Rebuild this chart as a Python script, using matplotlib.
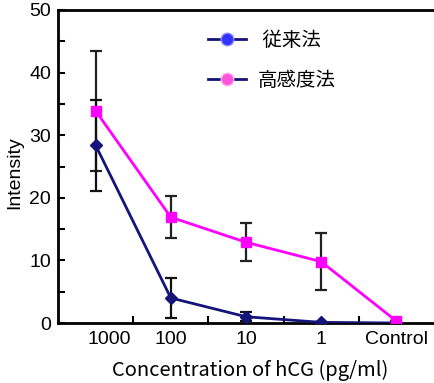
import matplotlib
matplotlib.use("Agg")
import matplotlib.pyplot as plt
from matplotlib.lines import Line2D
from matplotlib.ticker import MultipleLocator, FixedLocator
import matplotlib.transforms as mtransforms

categories = ["1000", "100", "10", "1", "Control"]
conv_vals = [28.4, 4.0, 1.0, 0.1, 0.0]
conv_err = [7.3, 3.2, 0.7, 0.0, 0.0]
high_vals = [33.9, 16.9, 12.9, 9.8, 0.3]
high_err = [9.6, 3.4, 3.0, 4.6, 0.0]
labels = ["従来法", "高感度法"]

plt.rcParams['font.family'] = ['Liberation Sans', 'Noto Sans CJK JP', 'DejaVu Sans']

fig = plt.figure(figsize=(4.34, 3.83), dpi=100)
ax = fig.add_axes([58/434, 1-323/383, 1-58/434, (323-10)/383])

x = list(range(len(categories)))
navy = "#14147a"
mag = "#ff00ff"

ax.errorbar(x, high_vals, yerr=high_err, fmt='none', ecolor='#222222',
            elinewidth=1.6, capsize=4.5, capthick=1.6, zorder=2)
ax.errorbar(x, conv_vals, yerr=conv_err, fmt='none', ecolor='#111111',
            elinewidth=1.6, capsize=4.5, capthick=1.6, zorder=2)
ax.plot(x, conv_vals, color=navy, lw=2.0, marker='D', ms=6, mfc=navy, mec=navy, zorder=3)
ax.plot(x, high_vals, color=mag, lw=2.0, marker='s', ms=7, mfc=mag, mec=mag, zorder=4)

ax.set_xlim(-0.5, 4.5)
ax.set_ylim(0, 50)
ax.spines['right'].set_visible(False)
for s in ['left', 'top', 'bottom']:
    ax.spines[s].set_linewidth(2.0)
    ax.spines[s].set_color('black')

ax.yaxis.set_major_locator(MultipleLocator(10))
ax.yaxis.set_minor_locator(MultipleLocator(5))
ax.tick_params(axis='y', which='both', direction='in', length=5, width=1.5,
               labelsize=14, pad=5)
ax.set_xticks(x)
ax.set_xticklabels(categories, fontsize=14)
ax.xaxis.set_minor_locator(FixedLocator([0.5, 1.5, 2.5, 3.5]))
ax.tick_params(axis='x', which='major', length=0, pad=6)
ax.tick_params(axis='x', which='minor', direction='in', length=5, width=1.5)
# shift first label slightly to the right as in the reference
lbl0 = ax.get_xticklabels()[0]
lbl0.set_transform(lbl0.get_transform() + mtransforms.ScaledTranslation(14/100, 0, fig.dpi_scale_trans))

fig.text(15/434, 1-173/383, "Intensity", rotation=90, ha='center', va='center',
         fontsize=14)
fig.text(250/434, 1-370/383, "Concentration of hCG (pg/ml)",
         ha='center', va='center', fontsize=14.5, family=['Noto Sans CJK JP'])

handles = [
    Line2D([], [], color=navy, lw=2, marker='o', ms=9, mfc='#3333ff', mec='#8888ff'),
    Line2D([], [], color=navy, lw=2, marker='o', ms=9, mfc='#ff55dd', mec='#ffaaee'),
]
leg = ax.legend(handles, [" " + labels[0], labels[1]], loc='upper left',
                bbox_to_anchor=(190/434, 1-12/383), bbox_transform=fig.transFigure,
                frameon=False, labelspacing=1.0, handlelength=2.0,
                handletextpad=0.6, prop={'family': ['Noto Sans CJK JP'], 'size': 14})

fig.savefig("out.png", dpi=100)
